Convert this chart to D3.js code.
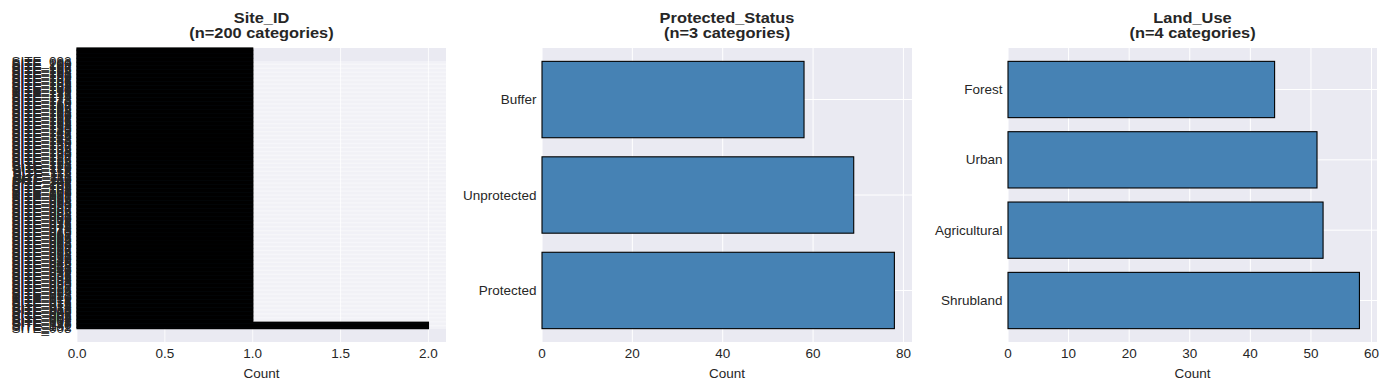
<!DOCTYPE html>
<html>
<head>
<meta charset="utf-8">
<style>
  body { margin: 0; background: #fff; }
  svg text { font-family: "Liberation Sans", Arial, sans-serif; fill: #262626; }
</style>
</head>
<body>
<svg width="1389" height="390"></svg>
<script src="https://d3js.org/d3.v7.min.js"></script>
<script>

// counts per category, index 0 is drawn at the bottom (value_counts order)
var siteIds = [
  "SITE_008","SITE_131","SITE_047","SITE_176","SITE_115",
  "SITE_001","SITE_002","SITE_003","SITE_004","SITE_005","SITE_006","SITE_007",
  "SITE_009","SITE_010","SITE_011","SITE_012","SITE_013","SITE_014","SITE_015","SITE_016","SITE_017","SITE_018",
  "SITE_019","SITE_020","SITE_021","SITE_022","SITE_023","SITE_024","SITE_025","SITE_026","SITE_027","SITE_028",
  "SITE_029","SITE_030","SITE_031","SITE_032","SITE_033","SITE_034","SITE_035","SITE_036","SITE_037","SITE_038",
  "SITE_039","SITE_040","SITE_041","SITE_042","SITE_043","SITE_044","SITE_045","SITE_046",
  "SITE_048","SITE_049","SITE_050","SITE_051","SITE_052","SITE_053","SITE_054","SITE_055","SITE_056","SITE_057",
  "SITE_058","SITE_059","SITE_060","SITE_061","SITE_062","SITE_063","SITE_064","SITE_065","SITE_066","SITE_067",
  "SITE_068","SITE_069","SITE_070","SITE_071","SITE_072","SITE_073","SITE_074","SITE_075","SITE_076","SITE_077",
  "SITE_078","SITE_079","SITE_080","SITE_081","SITE_082","SITE_083","SITE_084","SITE_085","SITE_086","SITE_087",
  "SITE_088","SITE_089","SITE_090","SITE_091",
  "SITE_093","SITE_094","SITE_095","SITE_096","SITE_097","SITE_098","SITE_099","SITE_100","SITE_101","SITE_102",
  "SITE_103","SITE_104","SITE_105","SITE_106","SITE_107","SITE_108","SITE_109","SITE_110","SITE_111","SITE_112",
  "SITE_113","SITE_114",
  "SITE_116","SITE_117","SITE_118","SITE_119","SITE_120","SITE_121","SITE_122","SITE_123","SITE_124","SITE_125",
  "SITE_126","SITE_127","SITE_128","SITE_129","SITE_130",
  "SITE_132","SITE_133","SITE_134","SITE_135","SITE_136","SITE_137","SITE_138","SITE_139","SITE_140","SITE_141",
  "SITE_142","SITE_143","SITE_144","SITE_145","SITE_146","SITE_147","SITE_148","SITE_149","SITE_150","SITE_151",
  "SITE_152","SITE_153","SITE_154","SITE_155","SITE_156","SITE_157","SITE_158","SITE_159","SITE_160","SITE_161",
  "SITE_162","SITE_163","SITE_164","SITE_165","SITE_166","SITE_167","SITE_168","SITE_169","SITE_170","SITE_171",
  "SITE_172","SITE_173","SITE_174","SITE_175",
  "SITE_177","SITE_178","SITE_179","SITE_180","SITE_181","SITE_182","SITE_183","SITE_184","SITE_185","SITE_186",
  "SITE_187","SITE_188","SITE_189","SITE_190","SITE_191","SITE_192","SITE_193","SITE_194","SITE_195","SITE_196",
  "SITE_197","SITE_198","SITE_199","SITE_200",
  "SITE_092"
];
var siteCounts = [
  2,2,2,2,2,
  1,1,1,1,1,1,1,1,1,1,1,1,1,1,1,1,1,1,1,1,1,1,1,1,1,1,1,1,1,1,1,1,1,1,1,
  1,1,1,1,1,1,1,1,1,1,1,1,1,1,1,1,1,1,1,1,1,1,1,1,1,1,1,1,1,1,1,1,1,1,1,
  1,1,1,1,1,1,1,1,1,1,1,1,1,1,1,1,1,1,1,1,1,1,1,1,1,1,1,1,1,1,1,1,1,1,1,
  1,1,1,1,1,1,1,1,1,1,1,1,1,1,1,1,1,1,1,1,1,1,1,1,1,1,1,1,1,1,1,1,1,1,1,
  1,1,1,1,1,1,1,1,1,1,1,1,1,1,1,1,1,1,1,1,1,1,1,1,1,1,1,1,1,1,1,1,1,1,1,
  1,1,1,1,1,1,1,1,1,1,1,1,1,1,1,1,1,1,1,1,1,1,1,1,1,1,1,1,1,1
];

var statusCats = ["Protected", "Unprotected", "Buffer"];
var statusCounts = [78, 69, 58];

var landCats = ["Shrubland", "Agricultural", "Urban", "Forest"];
var landCounts = [58, 52, 51, 44];

var svg = d3.select("svg");
var sy = 0.88; // text looks slightly squashed vertically in the reference

var panels = [
  {name: "Site_ID", cats: siteIds, counts: siteCounts, left: 77, right: 446, fmt: d3.format(".1f")},
  {name: "Protected_Status", cats: statusCats, counts: statusCounts, left: 542, right: 912, fmt: d3.format("d")},
  {name: "Land_Use", cats: landCats, counts: landCounts, left: 1008, right: 1377, fmt: d3.format("d")}
];

var plotTop = 48, plotBottom = 342;

function label(g, x, y, txt, size, anchor, weight) {
  return g.append("text")
    .attr("transform", "translate(" + x + "," + y + ") scale(1," + sy + ")")
    .attr("font-size", size)
    .attr("text-anchor", anchor)
    .attr("font-weight", weight || "normal")
    .text(txt);
}

panels.forEach(function(p) {
  var n = p.cats.length;
  var dense = n > 20;
  var m = 0.05 * (n - 0.2);
  var y = d3.scaleLinear().domain([-0.4 - m, n - 0.6 + m]).range([plotBottom, plotTop]);
  var x = d3.scaleLinear().domain([0, d3.max(p.counts) * 1.05]).range([p.left, p.right]);
  var g = svg.append("g");

  g.append("rect")
    .attr("x", p.left).attr("y", plotTop)
    .attr("width", p.right - p.left).attr("height", plotBottom - plotTop)
    .attr("fill", "#eaeaf2");

  var xt = x.ticks(5);
  g.selectAll(".gx").data(xt).enter().append("line")
    .attr("x1", function(d) { return x(d); }).attr("x2", function(d) { return x(d); })
    .attr("y1", plotTop).attr("y2", plotBottom)
    .attr("stroke", "#fff").attr("stroke-width", dense ? 0.8 : 1);

  g.selectAll(".gy").data(d3.range(n)).enter().append("line")
    .attr("x1", p.left).attr("x2", p.right)
    .attr("y1", function(i) { return y(i); }).attr("y2", function(i) { return y(i); })
    .attr("stroke", "#fff").attr("stroke-width", dense ? 0.6 : 1);

  g.selectAll(".bar").data(p.counts).enter().append("rect")
    .attr("x", x(0))
    .attr("y", function(d, i) { return y(i + 0.4); })
    .attr("width", function(d) { return x(d) - x(0); })
    .attr("height", function(d, i) { return y(i - 0.4) - y(i + 0.4); })
    .attr("fill", "#4682b4")
    .attr("stroke", "#000")
    .attr("stroke-width", dense ? 1.2 : 1.1);

  xt.forEach(function(t) {
    label(g, x(t), 357.5, p.fmt(t), 13.5, "middle");
  });
  p.cats.forEach(function(c, i) {
    label(g, p.left - 5.5, y(i) + 4.5, c, 13.5, "end");
  });

  var cx = (p.left + p.right) / 2;
  label(g, cx, 377.5, "Count", 13.5, "middle");
  label(g, cx, 23, p.name, 16.4, "middle", "bold");
  label(g, cx, 38, "(n=" + n + " categories)", 16.4, "middle", "bold");
});

</script>
</body>
</html>
